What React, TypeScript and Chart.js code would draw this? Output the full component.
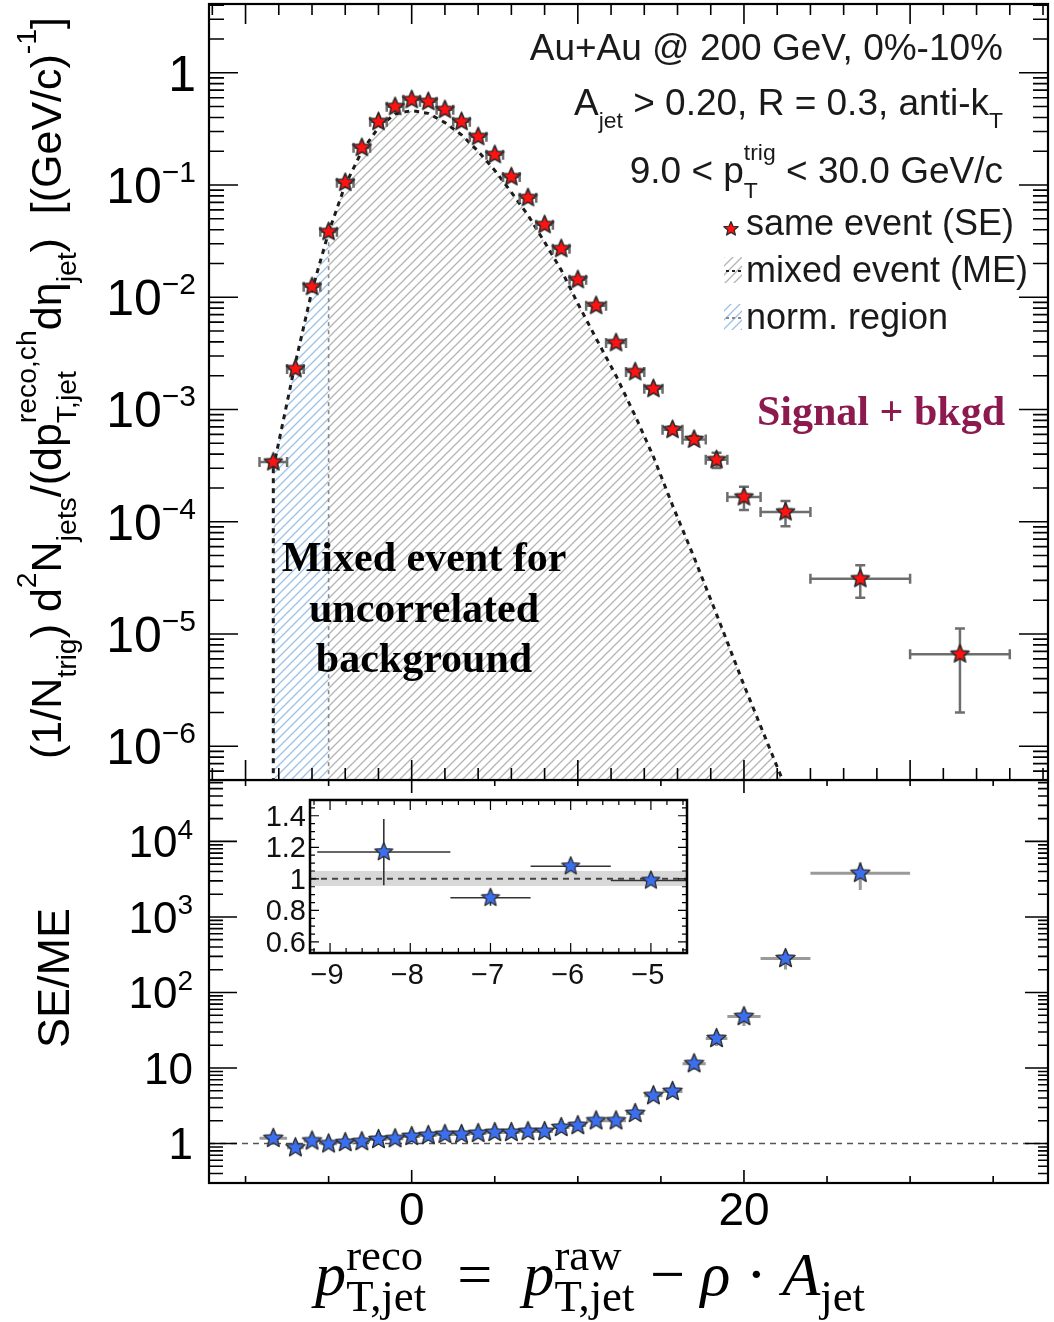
import React, { useEffect, useRef } from 'react';
import { Chart, registerables } from 'chart.js';

Chart.register(...registerables);

// ---------------- data ----------------
// reconstructed jet pT bin centres (GeV/c) and half bin widths
const ptBins = [-8.33, -7, -6, -5, -4, -3, -2, -1, 0, 1, 2, 3, 4, 5, 6, 7, 8, 9, 10, 11.1, 12.3, 13.45, 14.55, 15.7, 17, 18.35, 20, 22.5, 27, 33];
const ptHalfWidths = [0.83, 0.5, 0.5, 0.5, 0.5, 0.5, 0.5, 0.5, 0.5, 0.5, 0.5, 0.5, 0.5, 0.5, 0.5, 0.5, 0.5, 0.5, 0.5, 0.6, 0.6, 0.55, 0.55, 0.6, 0.7, 0.65, 1, 1.5, 3, 3];

// same-event per-trigger jet yield and its statistical error
const seYield = [3.4e-4, 2.3e-3, 1.24e-2, 3.83e-2, 0.105, 0.215, 0.366, 0.498, 0.574, 0.552, 0.468, 0.366, 0.269, 0.186, 0.118, 0.0769, 0.0442, 0.027, 0.0143, 8.4e-3, 3.92e-3, 2.16e-3, 1.53e-3, 6.6e-4, 5.4e-4, 3.56e-4, 1.66e-4, 1.22e-4, 3.1e-5, 6.6e-6];
const seError = [1.6e-5, 6e-5, 2.2e-4, 5e-4, 1.2e-3, 2e-3, 3e-3, 4e-3, 4.5e-3, 4.3e-3, 4e-3, 3.4e-3, 2.8e-3, 2.1e-3, 1.5e-3, 1.1e-3, 7e-4, 5e-4, 3.2e-4, 2.2e-4, 1.3e-4, 8.5e-5, 7e-5, 4.5e-5, 4e-5, 5.5e-5, 3.9e-5, 3.1e-5, 1.0e-5, 4.6e-6];

// mixed-event yield after normalisation (populated bins only)
const meYield = [3.0e-4, 2.6e-3, 1.15e-2, 3.8e-2, 0.10, 0.20, 0.325, 0.43, 0.46, 0.435, 0.36, 0.28, 0.20, 0.135, 0.086, 0.054, 0.031, 0.0175, 8.8e-3, 4.3e-3, 2.0e-3, 8.8e-4, 3.8e-4, 1.4e-4, 4.8e-5, 1.5e-5, 3.5e-6, 4.3e-7];

// SE/ME ratio and its error
const ratio = [1.17, 0.88, 1.08, 0.99, 1.03, 1.06, 1.13, 1.16, 1.24, 1.28, 1.32, 1.32, 1.36, 1.4, 1.4, 1.44, 1.44, 1.63, 1.73, 2.0, 2.0, 2.5, 4.3, 4.9, 11.4, 24.6, 48, 282, 3780];
const ratioError = [0.21, 0.05, 0.03, 0.02, 0.015, 0.012, 0.01, 0.01, 0.01, 0.01, 0.01, 0.012, 0.014, 0.016, 0.02, 0.025, 0.03, 0.045, 0.06, 0.09, 0.12, 0.2, 0.5, 0.7, 2, 5, 12, 80, 1500];

// normalisation region (upper edge) and ratio uncertainty band near unity
const normRegionEdge = -5;
const unityBand = [0.955, 1.05];

// axis ranges
const xRange = [-12.2, 38.3];
const topYRange = [5e-7, 4.1];
const bottomYRange = [0.3, 6.5e4];
const insetXRange = [-9.25, -4.55];
const insetYRange = [0.53, 1.5];

// tick labels
const topYExponents = [0, -1, -2, -3, -4, -5, -6];
const bottomYExponents = [0, 1, 2, 3, 4];
const bottomXLabels = [0, 20];
const insetXLabels = [-9, -8, -7, -6, -5];
const insetYLabels = [0.6, 0.8, 1, 1.2, 1.4];

// ---------------- helpers ----------------
const SANS = '"Liberation Sans", Arial, Helvetica, sans-serif';
const SERIF = '"Liberation Serif", "Times New Roman", Times, serif';

type Seg = { t: string; sup?: string; sub?: string; it?: boolean };
type RichOpt = { size: number; family: string; scale?: number; up?: number; down?: number; color?: string; align?: 'left' | 'right' | 'center'; bold?: boolean };

function font(size: number, family: string, it = false, bold = false) {
  return `${it ? 'italic ' : ''}${bold ? 'bold ' : ''}${size}px ${family}`;
}

function richWidth(ctx: CanvasRenderingContext2D, segs: Seg[], o: RichOpt) {
  const sc = o.scale ?? 0.65;
  let w = 0;
  for (const s of segs) {
    ctx.font = font(o.size, o.family, s.it, o.bold);
    w += ctx.measureText(s.t).width;
    ctx.font = font(o.size * sc, o.family, false, o.bold);
    let sw = 0;
    if (s.sup) sw = Math.max(sw, ctx.measureText(s.sup).width);
    if (s.sub) sw = Math.max(sw, ctx.measureText(s.sub).width);
    w += sw;
  }
  return w;
}

function drawRich(ctx: CanvasRenderingContext2D, segs: Seg[], x: number, y: number, o: RichOpt) {
  const sc = o.scale ?? 0.65;
  const up = o.up ?? 0.5;
  const down = o.down ?? 0.3;
  const w = richWidth(ctx, segs, o);
  let cx = o.align === 'right' ? x - w : o.align === 'center' ? x - w / 2 : x;
  ctx.fillStyle = o.color ?? '#000';
  ctx.textAlign = 'left';
  ctx.textBaseline = 'alphabetic';
  for (const s of segs) {
    ctx.font = font(o.size, o.family, s.it, o.bold);
    ctx.fillText(s.t, cx, y);
    cx += ctx.measureText(s.t).width;
    ctx.font = font(o.size * sc, o.family, false, o.bold);
    let sw = 0;
    if (s.sup) {
      ctx.fillText(s.sup, cx, y - o.size * up);
      sw = Math.max(sw, ctx.measureText(s.sup).width);
    }
    if (s.sub) {
      ctx.fillText(s.sub, cx, y + o.size * down);
      sw = Math.max(sw, ctx.measureText(s.sub).width);
    }
    cx += sw;
  }
  return w;
}

function makeStar(rOuter: number, fill: string, stroke: string, lw: number) {
  const size = Math.ceil(2 * (rOuter + lw + 1));
  const c = document.createElement('canvas');
  c.width = size;
  c.height = size;
  const g = c.getContext('2d')!;
  g.translate(size / 2, size / 2);
  g.beginPath();
  for (let i = 0; i < 10; i++) {
    const r = i % 2 === 0 ? rOuter : rOuter * 0.45;
    const a = -Math.PI / 2 + (i * Math.PI) / 5;
    g.lineTo(r * Math.cos(a), r * Math.sin(a));
  }
  g.closePath();
  g.fillStyle = fill;
  g.fill();
  g.lineWidth = lw;
  g.strokeStyle = stroke;
  g.lineJoin = 'round';
  g.stroke();
  return c;
}

function makeHatch(ctx: CanvasRenderingContext2D, color: string, step: number, lw: number) {
  const c = document.createElement('canvas');
  c.width = step;
  c.height = step;
  const g = c.getContext('2d')!;
  g.strokeStyle = color;
  g.lineWidth = lw;
  g.beginPath();
  g.moveTo(0, step);
  g.lineTo(step, 0);
  g.moveTo(-step / 2, step / 2);
  g.lineTo(step / 2, -step / 2);
  g.moveTo(step / 2, step * 1.5);
  g.lineTo(step * 1.5, step / 2);
  g.stroke();
  return ctx.createPattern(c, 'repeat')!;
}

type Tick = { v: number; major: boolean };

function logTickValues(lo: number, hi: number): Tick[] {
  const out: Tick[] = [];
  for (let e = Math.floor(Math.log10(lo)); e <= Math.ceil(Math.log10(hi)); e++) {
    for (let m = 1; m <= 9; m++) {
      const v = m * Math.pow(10, e);
      if (v >= lo * 0.999 && v <= hi * 1.001) out.push({ v, major: m === 1 });
    }
  }
  return out;
}

function linTickValues(lo: number, hi: number, step: number, majorStep: number): Tick[] {
  const out: Tick[] = [];
  for (let k = Math.ceil(lo / step - 1e-9); k * step <= hi + 1e-9; k++) {
    const v = +(k * step).toFixed(6);
    const q = v / majorStep;
    out.push({ v, major: Math.abs(q - Math.round(q)) < 1e-6 });
  }
  return out;
}

type FrameSpec = {
  xTicks: Tick[]; yTicks: Tick[];
  xMajor: number; xMinor: number; xTopMajor: number; xTopMinor: number;
  yMajor: number; yMinor: number; yMajorR: number; yMinorR: number;
  tickWidth: number; frameWidth: number;
};

function drawFrameTicks(chart: any, s: FrameSpec) {
  const { ctx, chartArea: a, scales } = chart;
  ctx.save();
  ctx.strokeStyle = '#000';
  ctx.lineWidth = s.tickWidth;
  ctx.beginPath();
  for (const t of s.xTicks) {
    const px = scales.x.getPixelForValue(t.v);
    if (px < a.left + 1 || px > a.right - 1) continue;
    ctx.moveTo(px, a.top);
    ctx.lineTo(px, a.top + (t.major ? s.xTopMajor : s.xTopMinor));
    ctx.moveTo(px, a.bottom);
    ctx.lineTo(px, a.bottom - (t.major ? s.xMajor : s.xMinor));
  }
  for (const t of s.yTicks) {
    const py = scales.y.getPixelForValue(t.v);
    if (py < a.top + 1 || py > a.bottom - 1) continue;
    ctx.moveTo(a.left, py);
    ctx.lineTo(a.left + (t.major ? s.yMajor : s.yMinor), py);
    ctx.moveTo(a.right, py);
    ctx.lineTo(a.right - (t.major ? s.yMajorR : s.yMinorR), py);
  }
  ctx.stroke();
  ctx.lineWidth = s.frameWidth;
  ctx.strokeRect(a.left, a.top, a.right - a.left, a.bottom - a.top);
  ctx.restore();
}

function drawErrors(chart: any, xs: number[], ys: number[], xe: number[], ye: number[], color: string, lw: number, cap: number) {
  const { ctx, chartArea: a, scales } = chart;
  const { x, y } = scales;
  ctx.save();
  ctx.beginPath();
  ctx.rect(a.left, a.top, a.right - a.left, a.bottom - a.top);
  ctx.clip();
  ctx.strokeStyle = color;
  ctx.lineWidth = lw;
  ctx.beginPath();
  for (let i = 0; i < ys.length; i++) {
    const px = x.getPixelForValue(xs[i]);
    const py = y.getPixelForValue(ys[i]);
    const x0 = x.getPixelForValue(xs[i] - xe[i]);
    const x1 = x.getPixelForValue(xs[i] + xe[i]);
    const lowV = ys[i] - ye[i];
    const y0 = lowV > 0 ? y.getPixelForValue(lowV) : a.bottom;
    const y1 = y.getPixelForValue(ys[i] + ye[i]);
    ctx.moveTo(x0, py);
    ctx.lineTo(x1, py);
    ctx.moveTo(px, y0);
    ctx.lineTo(px, y1);
    if (cap > 0) {
      ctx.moveTo(x0, py - cap); ctx.lineTo(x0, py + cap);
      ctx.moveTo(x1, py - cap); ctx.lineTo(x1, py + cap);
      ctx.moveTo(px - cap, y0); ctx.lineTo(px + cap, y0);
      ctx.moveTo(px - cap, y1); ctx.lineTo(px + cap, y1);
    }
  }
  ctx.stroke();
  ctx.restore();
}

function drawPow(ctx: CanvasRenderingContext2D, xRight: number, yTick: number, exp: number, size: number, supSize: number) {
  ctx.fillStyle = '#000';
  ctx.textBaseline = 'alphabetic';
  ctx.textAlign = 'left';
  const base = yTick + size * 0.36;
  if (exp === 0 || exp === 1) {
    const s = exp === 0 ? '1' : '10';
    ctx.font = font(size, SANS);
    ctx.fillText(s, xRight - ctx.measureText(s).width, base);
    return;
  }
  const sup = exp < 0 ? '\u2212' + -exp : String(exp);
  ctx.font = font(supSize, SANS);
  const ws = ctx.measureText(sup).width;
  ctx.font = font(size, SANS);
  const wb = ctx.measureText('10').width;
  ctx.fillText('10', xRight - ws - wb, base);
  ctx.font = font(supSize, SANS);
  ctx.fillText(sup, xRight - ws, base - size * 0.42);
}

function drawRotated(ctx: CanvasRenderingContext2D, x: number, y: number, fn: () => void) {
  ctx.save();
  ctx.translate(x, y);
  ctx.rotate(-Math.PI / 2);
  fn();
  ctx.restore();
}

// ---------------- panels ----------------
function buildTop(canvas: HTMLCanvasElement) {
  const ctx = canvas.getContext('2d')!;
  const grayHatch = makeHatch(ctx, '#b4b4b4', 9, 1.3);
  const blueHatch = makeHatch(ctx, '#9dc1e6', 9, 1.3);
  const redStar = makeStar(9.5, '#ff1212', '#2a2a2a', 1.6);
  const legendStar = makeStar(7.5, '#ff1212', '#2a2a2a', 1.2);

  const mePts = meYield.map((v, i) => ({ x: ptBins[i], y: v }));
  const sePts = seYield.map((v, i) => ({ x: ptBins[i], y: v }));
  const normPts = mePts.filter((p) => p.x <= normRegionEdge);
  const restPts = mePts.filter((p) => p.x >= normRegionEdge);
  const normEdgeValue = mePts.find((p) => p.x === normRegionEdge)!.y;

  const decor = {
    id: 'topDecor',
    beforeDatasetDraw(chart: any, args: any) {
      if (args.index !== 0) return;
      const { chartArea: a, scales } = chart;
      ctx.save();
      ctx.beginPath();
      ctx.rect(a.left, a.top, a.right - a.left, a.bottom - a.top);
      ctx.clip();
      // mixed-event histogram edge at its first populated bin
      const x0 = scales.x.getPixelForValue(mePts[0].x);
      ctx.strokeStyle = '#1c1c1c';
      ctx.lineWidth = 3;
      ctx.setLineDash([5, 5]);
      ctx.beginPath();
      ctx.moveTo(x0, scales.y.getPixelForValue(mePts[0].y));
      ctx.lineTo(x0, a.bottom);
      ctx.stroke();
      // upper edge of the normalisation region
      const xn = scales.x.getPixelForValue(normRegionEdge);
      ctx.strokeStyle = '#8a8a8a';
      ctx.lineWidth = 1.6;
      ctx.setLineDash([4, 4]);
      ctx.beginPath();
      ctx.moveTo(xn, scales.y.getPixelForValue(normEdgeValue) + 10);
      ctx.lineTo(xn, a.bottom);
      ctx.stroke();
      ctx.restore();
      drawErrors(chart, ptBins, seYield, ptHalfWidths, seError, '#6e6e6e', 2.5, 5);
    },
    afterDraw(chart: any) {
      const { scales } = chart;
      drawFrameTicks(chart, {
        xTicks: linTickValues(xRange[0], xRange[1], 2, 10),
        yTicks: logTickValues(topYRange[0], topYRange[1]),
        xMajor: 20, xMinor: 12, xTopMajor: 20, xTopMinor: 11,
        yMajor: 29, yMinor: 15, yMajorR: 29, yMinorR: 15,
        tickWidth: 1.6, frameWidth: 2.2,
      });
      for (const e of topYExponents) {
        drawPow(ctx, 196, scales.y.getPixelForValue(Math.pow(10, e)), e, 50, 30);
      }

      // y-axis title
      const ySegs: Seg[] = [
        { t: '(1/N', sub: 'trig' }, { t: ') d', sup: '2' }, { t: 'N', sub: 'jets' },
        { t: '/(dp', sup: 'reco,ch', sub: 'T,jet' }, { t: 'd\u03B7', sub: 'jet' },
        { t: ')  [(GeV/' }, { t: 'c)', sup: '-1' }, { t: ']' },
      ];
      const yOpt: RichOpt = { size: 36, family: SANS, scale: 0.66, up: 0.58, down: 0.36, align: 'center' };
      const natural = richWidth(ctx, ySegs, yOpt);
      yOpt.size = 36 * (742 / natural);
      drawRotated(ctx, 61, 388, () => drawRich(ctx, ySegs, 0, 0, yOpt));

      // header text
      const hOpt: RichOpt = { size: 37, family: SANS, scale: 0.62, align: 'right', color: '#1a1a1a' };
      drawRich(ctx, [{ t: 'Au+Au @ 200 GeV, 0%-10%' }], 1003, 60, hOpt);
      drawRich(ctx, [{ t: 'A', sub: 'jet' }, { t: ' > 0.20, R = 0.3, anti-k', sub: 'T' }], 1003, 115, { ...hOpt, down: 0.36 });
      drawRich(ctx, [{ t: '9.0 < p', sup: 'trig', sub: 'T' }, { t: ' < 30.0 GeV/c' }], 1003, 183, { ...hOpt, up: 0.62, down: 0.4 });

      // legend
      const lx = 746;
      const rows = [235, 282, 329];
      ctx.font = font(36, SANS);
      ctx.fillStyle = '#1a1a1a';
      ctx.textAlign = 'left';
      ctx.textBaseline = 'alphabetic';
      ctx.fillText('same event (SE)', lx, rows[0]);
      ctx.fillText('mixed event (ME)', lx, rows[1]);
      ctx.fillText('norm. region', lx, rows[2]);
      ctx.drawImage(legendStar, 731 - legendStar.width / 2, 229 - legendStar.height / 2);
      const swatch = (cy: number, pattern: CanvasPattern, dash: string) => {
        ctx.save();
        ctx.beginPath();
        ctx.rect(724, cy - 13, 18, 26);
        ctx.clip();
        ctx.fillStyle = pattern;
        ctx.fillRect(724, cy - 13, 18, 26);
        ctx.restore();
        ctx.save();
        ctx.strokeStyle = dash;
        ctx.lineWidth = 2.2;
        ctx.setLineDash([3, 3]);
        ctx.beginPath();
        ctx.moveTo(726, cy + 1);
        ctx.lineTo(742, cy + 1);
        ctx.stroke();
        ctx.restore();
      };
      swatch(270, grayHatch, '#222');
      swatch(317, blueHatch, '#888');

      // annotations
      ctx.font = font(42, SERIF, false, true);
      ctx.fillStyle = '#8c1a4f';
      ctx.textAlign = 'right';
      ctx.fillText('Signal + bkgd', 1005, 425);
      ctx.fillStyle = '#000';
      ctx.textAlign = 'center';
      ctx.fillText('Mixed event for', 424, 571);
      ctx.fillText('uncorrelated', 424, 622);
      ctx.fillText('background', 424, 672);
    },
  };

  return new Chart(canvas, {
    type: 'line',
    data: {
      datasets: [
        { label: 'same event (SE)', data: sePts, showLine: false, pointStyle: redStar as any, pointRadius: 9, borderWidth: 0 },
        { label: 'mixed event (ME)', data: mePts, fill: false, borderColor: '#1c1c1c', borderWidth: 3, borderDash: [5, 5], pointRadius: 0, tension: 0 },
        { label: 'ME fill', data: restPts, fill: 'start', backgroundColor: grayHatch as any, borderWidth: 0, pointRadius: 0, tension: 0 },
        { label: 'norm. region', data: normPts, fill: 'start', backgroundColor: blueHatch as any, borderWidth: 0, pointRadius: 0, tension: 0 },
      ],
    },
    options: {
      animation: false,
      responsive: false,
      maintainAspectRatio: false,
      layout: { autoPadding: false, padding: { left: 209, top: 4, right: 6, bottom: 2 } },
      scales: {
        x: { type: 'linear', min: xRange[0], max: xRange[1], display: false },
        y: { type: 'logarithmic', min: topYRange[0], max: topYRange[1], display: false },
      },
      plugins: { legend: { display: false }, tooltip: { enabled: false } },
    },
    plugins: [decor],
  });
}

function buildBottom(canvas: HTMLCanvasElement) {
  const ctx = canvas.getContext('2d')!;
  const blueStar = makeStar(10, '#3c6ff0', '#2e2e2e', 1.4);
  const rx = ptBins.slice(0, ratio.length);
  const pts = ratio.map((v, i) => ({ x: rx[i], y: v }));

  const decor = {
    id: 'bottomDecor',
    beforeDatasetsDraw(chart: any) {
      const { chartArea: a, scales } = chart;
      const y1 = scales.y.getPixelForValue(1);
      ctx.save();
      ctx.strokeStyle = '#555';
      ctx.lineWidth = 1.5;
      ctx.setLineDash([6, 5]);
      ctx.beginPath();
      ctx.moveTo(a.left, y1);
      ctx.lineTo(a.right, y1);
      ctx.stroke();
      ctx.restore();
      drawErrors(chart, rx, ratio, ptHalfWidths.slice(0, ratio.length), ratioError, '#9a9a9a', 3, 0);
    },
    afterDraw(chart: any) {
      const { chartArea: a, scales } = chart;
      drawFrameTicks(chart, {
        xTicks: linTickValues(xRange[0], xRange[1], 5, 20),
        yTicks: logTickValues(bottomYRange[0], bottomYRange[1]),
        xMajor: 13, xMinor: 7, xTopMajor: 13, xTopMinor: 6,
        yMajor: 28, yMinor: 14, yMajorR: 23, yMinorR: 10,
        tickWidth: 1.6, frameWidth: 2.2,
      });
      for (const e of bottomYExponents) {
        drawPow(ctx, 193, scales.y.getPixelForValue(Math.pow(10, e)), e, 44, 28);
      }
      ctx.font = font(46, SANS);
      ctx.fillStyle = '#000';
      ctx.textAlign = 'center';
      ctx.textBaseline = 'alphabetic';
      for (const v of bottomXLabels) ctx.fillText(String(v), scales.x.getPixelForValue(v), a.bottom + 42);

      // x-axis title
      const xSegs: Seg[] = [
        { t: 'p', it: true, sup: 'reco', sub: 'T,jet' },
        { t: '\u2002=\u2002' },
        { t: 'p', it: true, sup: 'raw', sub: 'T,jet' },
        { t: ' \u2212 ' },
        { t: '\u03C1', it: true },
        { t: ' \u00B7 ' },
        { t: 'A', it: true, sub: 'jet' },
      ];
      const xOpt: RichOpt = { size: 54, family: SERIF, scale: 0.72, up: 0.4, down: 0.26, align: 'center' };
      const nat = richWidth(ctx, xSegs, xOpt);
      xOpt.size = 54 * (550 / nat);
      drawRich(ctx, xSegs, 590, a.bottom + 112, xOpt);

      // y-axis title
      ctx.font = font(45, SANS);
      drawRotated(ctx, 69, 198, () => {
        ctx.fillStyle = '#000';
        ctx.textAlign = 'center';
        ctx.textBaseline = 'alphabetic';
        ctx.fillText('SE/ME', 0, 0);
      });
    },
  };

  return new Chart(canvas, {
    type: 'line',
    data: {
      datasets: [
        { label: 'SE/ME', data: pts, showLine: false, pointStyle: blueStar as any, pointRadius: 10, borderWidth: 0 },
      ],
    },
    options: {
      animation: false,
      responsive: false,
      maintainAspectRatio: false,
      layout: { autoPadding: false, padding: { left: 209, top: 0, right: 6, bottom: 139 } },
      scales: {
        x: { type: 'linear', min: xRange[0], max: xRange[1], display: false },
        y: { type: 'logarithmic', min: bottomYRange[0], max: bottomYRange[1], display: false },
      },
      plugins: { legend: { display: false }, tooltip: { enabled: false } },
    },
    plugins: [decor],
  });
}

function buildInset(canvas: HTMLCanvasElement) {
  const ctx = canvas.getContext('2d')!;
  const blueStar = makeStar(9.5, '#3c6ff0', '#2e2e2e', 1.3);
  const n = insetXLabels.length - 1;
  const ix = ptBins.slice(0, n);
  const iy = ratio.slice(0, n);
  const pts = iy.map((v, i) => ({ x: ix[i], y: v }));

  const decor = {
    id: 'insetDecor',
    beforeDatasetsDraw(chart: any) {
      const { chartArea: a, scales } = chart;
      ctx.save();
      ctx.fillStyle = '#fff';
      ctx.fillRect(a.left, a.top, a.right - a.left, a.bottom - a.top);
      const b0 = scales.y.getPixelForValue(unityBand[0]);
      const b1 = scales.y.getPixelForValue(unityBand[1]);
      ctx.fillStyle = 'rgba(190,190,190,0.6)';
      ctx.fillRect(a.left, b1, a.right - a.left, b0 - b1);
      const y1 = scales.y.getPixelForValue(1);
      ctx.strokeStyle = '#444';
      ctx.lineWidth = 2;
      ctx.setLineDash([6, 5]);
      ctx.beginPath();
      ctx.moveTo(a.left, y1);
      ctx.lineTo(a.right, y1);
      ctx.stroke();
      ctx.restore();
      drawErrors(chart, ix, iy, ptHalfWidths.slice(0, n), ratioError.slice(0, n), '#333', 1.6, 0);
    },
    afterDraw(chart: any) {
      const { chartArea: a, scales } = chart;
      drawFrameTicks(chart, {
        xTicks: linTickValues(insetXRange[0], insetXRange[1], 0.2, 1),
        yTicks: linTickValues(insetYRange[0], insetYRange[1], 0.05, 0.2),
        xMajor: 10, xMinor: 5, xTopMajor: 10, xTopMinor: 5,
        yMajor: 9, yMinor: 5, yMajorR: 9, yMinorR: 5,
        tickWidth: 1.2, frameWidth: 2.5,
      });
      ctx.fillStyle = '#111';
      ctx.font = font(29, SANS);
      ctx.textBaseline = 'alphabetic';
      ctx.textAlign = 'right';
      for (const v of insetYLabels) ctx.fillText(String(v), a.left - 4, scales.y.getPixelForValue(v) + 10);
      ctx.textAlign = 'center';
      for (const v of insetXLabels) ctx.fillText('\u2212' + -v, scales.x.getPixelForValue(v) - 3, a.bottom + 31);
    },
  };

  return new Chart(canvas, {
    type: 'line',
    data: {
      datasets: [
        { label: 'SE/ME', data: pts, showLine: false, pointStyle: blueStar as any, pointRadius: 9, borderWidth: 0 },
      ],
    },
    options: {
      animation: false,
      responsive: false,
      maintainAspectRatio: false,
      layout: { autoPadding: false, padding: { left: 60, top: 10, right: 13, bottom: 42 } },
      scales: {
        x: { type: 'linear', min: insetXRange[0], max: insetXRange[1], display: false },
        y: { type: 'linear', min: insetYRange[0], max: insetYRange[1], display: false },
      },
      plugins: { legend: { display: false }, tooltip: { enabled: false } },
    },
    plugins: [decor],
  });
}

export default function App() {
  const topRef = useRef<HTMLCanvasElement>(null);
  const botRef = useRef<HTMLCanvasElement>(null);
  const insetRef = useRef<HTMLCanvasElement>(null);

  useEffect(() => {
    const charts: Chart[] = [];
    if (topRef.current) charts.push(buildTop(topRef.current));
    if (botRef.current) charts.push(buildBottom(botRef.current));
    if (insetRef.current) charts.push(buildInset(insetRef.current));
    return () => charts.forEach((c) => c.destroy());
  }, []);

  return (
    <div style={{ position: 'absolute', left: 0, top: 0, width: 1054, height: 1322, background: '#fff' }}>
      <canvas ref={topRef} width={1054} height={782} style={{ position: 'absolute', left: 0, top: 0, width: 1054, height: 782 }} />
      <canvas ref={botRef} width={1054} height={542} style={{ position: 'absolute', left: 0, top: 780, width: 1054, height: 542 }} />
      <canvas ref={insetRef} width={450} height={205} style={{ position: 'absolute', left: 250, top: 790, width: 450, height: 205 }} />
    </div>
  );
}
